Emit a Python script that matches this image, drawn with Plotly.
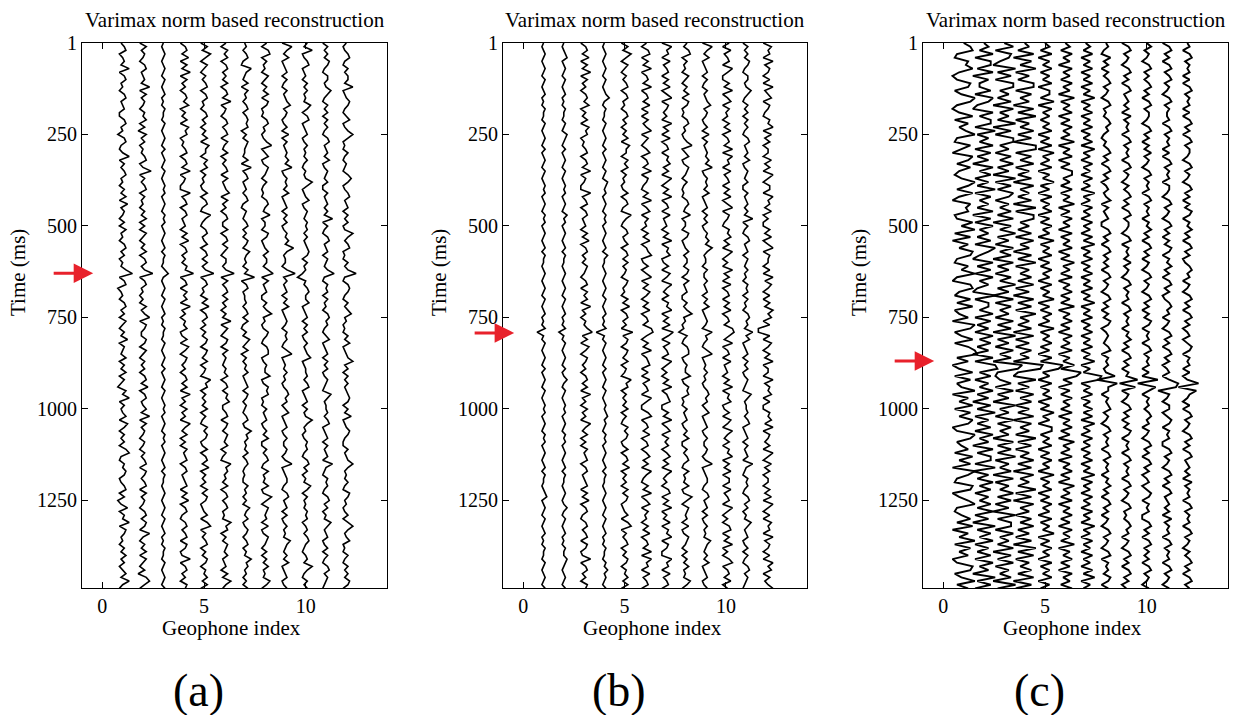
import plotly.graph_objects as go

# ---------------- data ----------------
GEOPHONES = [1, 2, 3, 4, 5, 6, 7, 8, 9, 10, 11, 12]
T0_MS = 1          # first sample time
DT_MS = 10
T_MAX_MS = 1490
Y_TICKS = [1, 250, 500, 750, 1000, 1250]
X_TICKS = [0, 5, 10]
PANEL_TITLES = ["Varimax norm based reconstruction"] * 3
PANEL_LABELS = ["(a)", "(b)", "(c)"]
ARROW_TIMES_MS = [630, 793, 870]

# amplitude level codes: '8' = zero, '0' = -8, 'G' = +8
LEVELS = "0123456789ABCDEFG"

TRACES_A = [
    "79A6897C69 A7869A7896 69A7859A76 8C6979A786 97A6B79869 6A7869A796 87AE69A578 69A796A869 7B6987A697 A6975A8C69 78A6B96979 6AC7698A96 79A6957B69 8C6A978697 A7968A7C86",
    "6A79869A78 97C6A79869 8A695A7968 79A68D6979 A6978697A6 96A8697A69 A79E69A786 86A79C6A97 7A96A86979 69A7B69A78 A7C6A79869 86979A6A97 9A6A79869A 7A96C8697A 6A8695AC96",
    "8789878987 9878978798 8798789879 7898798789 8978987989 7898789798 879B878987 9878978798 8798789879 7898798789 8978987989 7898789798 8789878987 9878978798 8798789879",
    "69A7B6A7C6 A7969A8B69 7A6B9A6879 A69A7C6986 6C79A69A78 96A7B69A79 7A9E69A6A8 A6C79698A6 7A6B96A979 69A7A6C796 A796C97A69 6A89A69A78 9A6A7B69A7 69A79A6A96 7C69A796A9",
    "6A7C96A869 79A69A7869 A79697A6B9 96A8A69786 7A69A76C97 69A78A69A7 A79E69A786 A7B69A7969 7A96A97A69 86C9A69797 A6976A8A96 7A69A7B697 96A7A9678A 6AC6979A69 7A9698A7A6",
    "96A8A69A79 7A69A7C698 69A79A6A87 A6979A6A78 9B6A7969A7 7A69A7A869 979E6A79A7 A79697C6A8 6A96A79879 8A69A7A9B7 79A6A97A98 A6976C9A89 7A69A79A78 7C9A697A98 A7896A7C97",
    "8979A76C98 7A6A8979A7 9A9A697A98 87A6C79A78 979A769879 A797A97B98 97A8E69A78 8979A7A769 7B97A69798 A789A7A979 879A78C9A8 98A79A8787 7A89797B98 A78A979A79 8C9A89797A",
    "96AB69786A 8697A6A967 69A78679C6 8A67A98697 6769A87B68 86A9678A79 97AD6A7896 6979C7867A 9769AA6798 8B67A9A676 97896797A6 6979A76A78 7A67C96A98 96A67A9869 697A787B96",
    "6C97A67896 9769789B79 86796A6978 98A8C67989 7A67896979 6798A8D978 869E797896 97A6789869 89769C6787 978679A896 8A67896797 79868C6789 9769A78969 679787B987 97A6789679",
    "97C679A678 6979787B96 9A67896797 87976878C9 678A679879 8979789A96 97863879A8 8A67896979 679789B678 8979A67896 978C978679 89769A7968 7B96978798 968979A876 897C976979",
    "69797A9769 978B976979 6979769A78 97A6798796 69789797C6 9769A78969 879D769896 97869A8976 8A67896979 679876B978 8979A67896 97896C8769 89769A7968 7B97896796 9769A79876",
    "8679A76979 97C678A976 8A679C9676 9768769B96 79A7896979 67C979A676 979E769A97 6979B78676 97A6789C79 6979789A96 97B678A976 69789C9787 976A978679 69C978A676 9769797A96",
]

TRACES_B = [
    "8789878987 9878978798 8798789879 7898798789 8978987989 7898789798 8789878987 9878978794 8798789879 7898798789 8978987989 7898789798 8789A78987 9878978798 8798789879",
    "8789A78987 9878978798 87987A9879 7898798789 8978987A89 7898789798 8789878987 9878978795 8798789879 78A8798789 8978987989 7898789798 8789878A87 9878978798 8A98789879",
    "69A7B6A7C6 A7969A8B69 7A6B9A6879 A69A7C6986 6C79A69A78 96A7B69A79 7A9869A6A8 A6C79698AD 7A6B96A979 69A7A6C796 A796C97A69 6A89A69A78 9A6A7B69A7 69A79A6A96 7C69A796A9",
    "8789878987 98789B8798 8798789879 78987987A9 8978987989 78987897A8 8789878987 9878978793 8798789879 7898798789 89A8987989 7898789798 8789878987 9878978798 8798A89879",
    "6A7C96A869 79A69A7869 A79697A6B9 96A8A69786 7A69A76C97 69A78A69A7 A7986A9786 A7B69A796D 7A96A97A69 86C9A69797 A6976A8A96 7A69A7B697 96A7A9678A 6AC6979A69 7A9698A7A6",
    "96AB6A7C69 A7C69A7B6A 6A79C6A869 B69A7C6A97 6A7C69B6A8 96A7B69AC6 7A69C6A7B9 6A7B69A7CD 96A7C69AB6 A6B79A6C96 6AC69A7B69 A69B7A6C97 6A7C69B6A8 96A7B69A7C 6C9A6B79A6",
    "6C9A6B79A6 A7B69C6A97 96C7A6B69A 6A9B7A6C96 A7C69A6B78 96A7C6A9B6 7A6B96C97A 6A9C6A7B6D A6B79A6C96 96A7C69AB6 6A7C69B6A8 A69B7A6C97 96AB6A7C69 7B6A9C6A96 6C9A6B79A6",
    "97AB69786A 8697A6A967 69A78679C6 8A67A98697 6769A87B68 86A9678A79 97A96A7896 6979C78674 9769AA6798 8B67A9A676 97896797A6 6979A76A78 7A67C96A98 96A67A9869 697A787B96",
    "6C97A67896 9769789B79 86796A6978 98A8C67989 7A67896979 6798A8C978 8697797896 97A678986C 89769C6787 978679A896 8A67896797 79868C6789 9769A78969 679787B987 97A6789679",
    "A6B79A6C96 6A7C69B6A8 96A7B69A7C 6C9A6B79A6 A7B69C6A97 6A9B7A6C96 96C7A6B69A 6A7B69A7CD A7C69A6B78 96A7C6A9B6 7A6B96C97A 6A9C6A7B6A A6B79A6C96 96AB6A7C69 6AC69A7B69",
    "69797A9769 978B976979 6979769A78 97A6798796 69789797C6 9769A78969 8797869896 97869A897C 8A67896979 679876B978 8979A67896 97896C8769 89769A7968 7B97896796 9769A79876",
    "6B9A6C7A96 A6C79B6A97 6A9C6B7A69 96B7A6C96A A6C9A7B696 6A7B69C6A9 96A6C7B96A 6A7C9B6A33 A6B96A7C69 96C7A9B6A6 6A9B7C6A97 A6C96B7A69 96A7B6C96A 6B9A6C7A96 A6C9B6A79C",
]

TRACES_C = [
    "8BC54A9C63 5BA47DB536 C4A69D54B7 3CA5B647DA 5C63B9A45C 7D4B3A6CB5 4A7D53BC64 B5C46A3DB4 7C4ADE5A36 C4B57D3A6C 4B6CA35DB5 7A4C6B3DA5 4CB36AD547 B5C3A6D4B6 A35CB47D5A",
    "8A6C4BB5C3 A66B4CA53C 6BB4D5A6C4 B5A3C6B4A5 D4B6A5C3B4 C6A5B4DA63 C5B4C6A53D 4AA6C4B5A4 C6B5A3C4DE 6B4A6C5A3B 5D4A5B4C6A 3C5BB4D3A5 C6B4A6B5C4 A3D5B6C4A5 B4C6A3D5B4",
    "8C4BA63D5B 4CC6A5B3C6 A5D3B4CC6A 4B6C5A3D4B 5CA4A6B5C3 B6D5A4C6B3 C5A4B6D5A3 C4B6A4C5B3 D5A4C6B3GE 546B4C5A3D 6A4C5B6A3C 5B5D4A6B3C 4A6C5B4A3D 5BB4C6A5C3 B5C4A6B3D5",
    "8A5C3B6D4A 5CC4B6A3C5 D4A6C5B3DD 4B6C4A5B3C 6A5B3D4CC6 A5B4C6A3B5 D4A6B5C4A3 C5B4D6A5B3 C4A4B6A3GF 53D5A4C6B4 A5C3B6A4D5 B4A6C5B3C6 A5D4B3C6A4 B6C5A4B3D5 C4A6B5C3B4",
    "8A6B5A7B6A 7B5AA6C5B7 A6A7B5A6B5 C7A6B5A7C6 A5B6A7B5A6 B7A5C6A7B5 A6B7A5B6A7 C5A6B7A5C6 A7B6A5B6GE 7A5B6A7B5A 6C7A5BB6A7 B5A6B7A5C6 A7B5A6B7A5 B6A7C5A6B7 A5B6A7B5A6",
    "8A6B7A5B7A 6B7A5C6A7B 5A6B7A6C5A 7B5A6BB7A6 B6A7C5A6B7 A5B6A7B5A6 C7A6B5A7B6 A6C5A7B6A5 B7A6B5A7C6 FD7B5A6B7A 6B5A7B6A5C 7A6B5A7B6A 5C7A6B5A7B 6A5B7A6C5A 7B6A5B7A6B",
    "8A7B6A7B6A 7B6A7C6A7B 6A7B6A7B6C 7A6B7A6B7A 6C7A6B7A6B 7A6B7C6A7B 6A7B6A7B6A 7C6A7B6A7B 6A7B6A7C6A 7FE6A7B6A7 B7B6C7A6B7 A6A7B6A7C6 B7A6B7A6B7 A6C7A6B7A6 B7A6B7C6A7",
    "8976A79697 9A79869A78 79A8976879 A7969A7968 978A697896 69A7969A79 7969A79869 A79697A968 9879A69897 8C4D996989 A79869A798 969A798969 8A7969A796 9869A79869 A69897A969",
    "69A79869A7 969A789796 A798969A79 8969A79869 79A7969A79 9869A69897 A79869A798 969A798969 8A7969A796 98D5C69869 A79697A969 8969A79896 9A79869A78 79A8969869 A7969A7968",
    "8A79869A79 79A7969A79 9869A79697 A79869A798 969A798969 8A7969A796 9869A79869 A79697A969 8969A79896 96D4C96989 79A8969869 A7969A7968 968A969896 69A7969A79 7969A79869",
    "69A7969A79 A79869A798 8969A79896 969A798969 9869A79869 A79697A969 8A7969A796 79A8969869 A7969A7968 969DC49869 968A969896 69A79869A7 969A789796 A798969A79 8969A79869",
    "8969A79896 969A798969 69A7969A79 9869A79869 A79697A969 8A7969A796 79A8969869 A7969A7968 968A969896 968D4C9869 69A79869A7 969A789796 A798969A79 8969A79869 79A7969A79",
]

# amplitude (geophone-index units) of one level step in each panel
LEVEL_UNIT = [0.08, 0.08, 0.11]

# ---------------- layout geometry ----------------
W, H = 1245, 715
X_DOMAINS = [(82, 387), (503, 807), (923, 1228)]
SERIF = "Liberation Serif"


def py(px):
    """pixel row (from top) -> paper coordinate, with empirical correction"""
    return 1 - ((px - 11) * H / 704) / H


def decode(code):
    return [LEVELS.index(c) - 8 for c in code.replace(" ", "")]


fig = go.Figure()
panels = [TRACES_A, TRACES_B, TRACES_C]
widths_ = [1.6, 1.6, 1.9]

for p, traces in enumerate(panels):
    xa = "x" if p == 0 else f"x{p + 1}"
    ya = "y" if p == 0 else f"y{p + 1}"
    for k, code in enumerate(traces):
        lv = decode(code)
        xs = [GEOPHONES[k] + LEVEL_UNIT[p] * v for v in lv]
        ts = [T0_MS + DT_MS * i for i in range(len(lv))]
        fig.add_trace(go.Scatter(
            x=xs, y=ts, mode="lines",
            line=dict(color="black", width=widths_[p], shape="linear"),
            xaxis=xa, yaxis=ya, showlegend=False, hoverinfo="skip"))

axis_common = dict(
    showline=True, linecolor="black", linewidth=1, mirror="ticks",
    ticks="inside", ticklen=6, tickcolor="black", tickwidth=1,
    showgrid=False, zeroline=False,
    tickfont=dict(family=SERIF, size=20, color="black"),
)

layout = dict(
    width=W, height=H, margin=dict(l=0, r=0, t=0, b=0),
    paper_bgcolor="white", plot_bgcolor="white", showlegend=False,
)
annotations = []
y_dom = [py(588), py(43)]
for p in range(3):
    sx = "" if p == 0 else str(p + 1)
    x0, x1 = X_DOMAINS[p]
    layout[f"xaxis{sx}"] = dict(axis_common, domain=[x0 / W, x1 / W], range=[-1, 14],
                                tickvals=X_TICKS, anchor=f"y{sx}")
    layout[f"yaxis{sx}"] = dict(axis_common, domain=y_dom, range=[T_MAX_MS, T0_MS],
                                tickvals=Y_TICKS, anchor=f"x{sx}")
    cx = (x0 + x1) / 2
    annotations.append(dict(text=PANEL_TITLES[p], x=cx / W, y=py(20), xref="paper", yref="paper",
                            showarrow=False, xanchor="center", yanchor="middle",
                            font=dict(family=SERIF, size=21, color="black")))
    annotations.append(dict(text="Geophone index", x=(cx - 3) / W, y=py(628), xref="paper", yref="paper",
                            showarrow=False, xanchor="center", yanchor="middle",
                            font=dict(family=SERIF, size=21, color="black")))
    annotations.append(dict(text="Time (ms)", x=(x0 - 64) / W, y=py(273), xref="paper", yref="paper",
                            showarrow=False, xanchor="center", yanchor="middle", textangle=-90,
                            font=dict(family=SERIF, size=21, color="black")))
    annotations.append(dict(text=PANEL_LABELS[p], x=(cx - 36) / W, y=py(690), xref="paper", yref="paper",
                            showarrow=False, xanchor="center", yanchor="middle",
                            font=dict(family=SERIF, size=46, color="black")))
    annotations.append(dict(text="", x=-0.45, y=ARROW_TIMES_MS[p], xref=f"x{sx}", yref=f"y{sx}",
                            showarrow=True, ax=-41, ay=0, axref="pixel", ayref="pixel",
                            arrowhead=2, arrowsize=1.3, arrowwidth=3, arrowcolor="#e8212b",
                            standoff=0))

layout["annotations"] = annotations
fig.update_layout(**layout)
fig.write_html("out.html")
